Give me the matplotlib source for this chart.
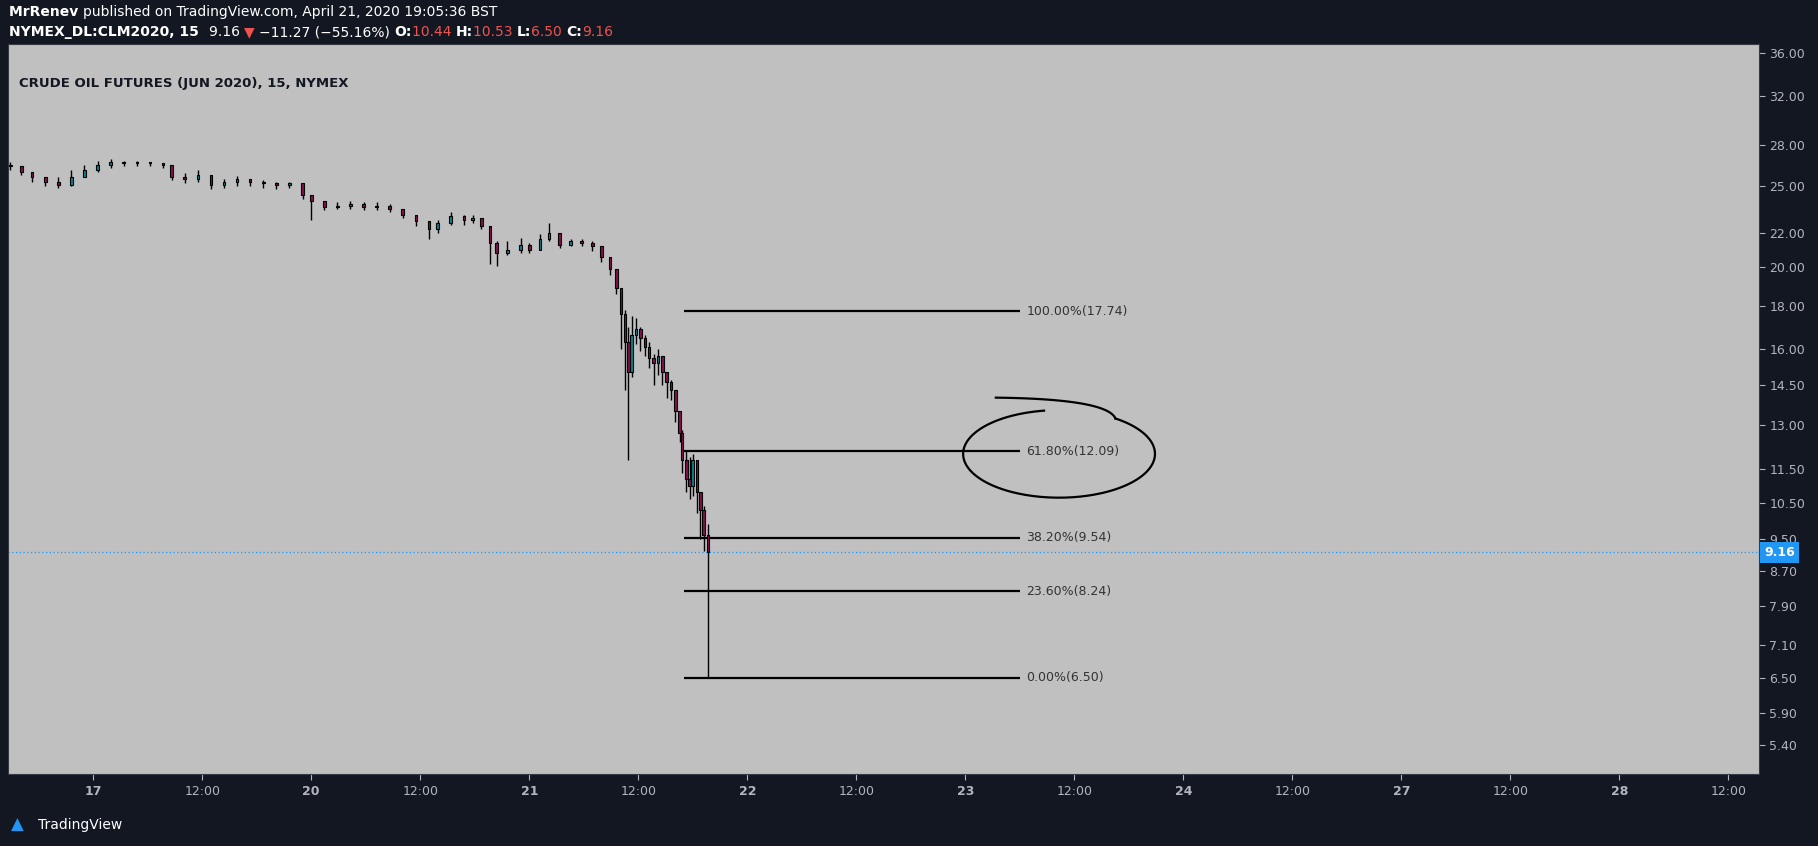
import matplotlib.pyplot as plt
import numpy as np
from matplotlib.patches import Rectangle

# time in trading days since 17 Apr (day 0), compressed axis
times = [-0.38, -0.33, -0.28, -0.22, -0.16, -0.10, -0.04, 0.02, 0.08, 0.14, 0.20, 0.26, 0.32,
         0.36, 0.42, 0.48, 0.54, 0.60, 0.66, 0.72, 0.78, 0.84, 0.90, 0.96, 1.00, 1.06, 1.12,
         1.18, 1.24, 1.30, 1.36, 1.42, 1.48, 1.54, 1.58, 1.64, 1.70, 1.74, 1.78, 1.82, 1.85,
         1.90, 1.96, 2.00, 2.05, 2.09, 2.14, 2.19, 2.24, 2.29, 2.33, 2.37, 2.40, 2.42, 2.44,
         2.455, 2.47, 2.49, 2.51, 2.53, 2.55, 2.57, 2.59, 2.61, 2.63, 2.65, 2.67, 2.69, 2.70,
         2.72, 2.735, 2.75, 2.77, 2.785, 2.80, 2.82]
closes = [26.4, 26.0, 25.6, 25.3, 25.1, 25.6, 26.1, 26.5, 26.7, 26.6, 26.7, 26.6, 26.5,
          25.6, 25.5, 25.8, 25.1, 25.3, 25.5, 25.3, 25.2, 25.1, 25.2, 24.4, 24.0, 23.6, 23.7,
          23.8, 23.6, 23.7, 23.5, 23.1, 22.7, 22.2, 22.6, 23.0, 22.8, 22.9, 22.4, 21.4, 20.8,
          21.0, 21.3, 21.0, 21.6, 22.0, 21.3, 21.5, 21.4, 21.2, 20.6, 19.9, 18.9, 17.6, 16.3,
          15.0, 16.6, 16.9, 16.5, 16.1, 15.6, 15.4, 15.7, 15.0, 14.6, 14.3, 13.5, 12.7, 11.8,
          11.2, 11.0, 11.8, 10.8, 10.3, 9.6, 9.16]
highs = [26.7, 26.4, 26.0, 25.6, 25.6, 26.1, 26.5, 26.8, 26.9, 26.8, 26.8, 26.7, 26.6,
         26.5, 25.9, 26.1, 25.8, 25.5, 25.7, 25.5, 25.4, 25.3, 25.3, 25.2, 24.4, 24.0, 23.9,
         24.0, 23.9, 23.9, 23.8, 23.5, 23.1, 22.7, 22.8, 23.3, 23.1, 23.1, 22.9, 22.4, 21.5,
         21.5, 21.7, 21.4, 21.9, 22.6, 22.0, 21.6, 21.6, 21.5, 21.2, 20.6, 19.9, 18.9, 17.8,
         17.0, 17.5, 17.4, 17.0, 16.6, 16.3, 15.8, 16.0, 15.7, 15.0, 14.7, 14.3, 13.5, 12.8,
         12.1, 11.9, 12.0, 11.8, 10.8, 10.4, 9.9]
lows = [26.1, 25.8, 25.3, 25.0, 24.9, 25.0, 25.9, 26.0, 26.3, 26.4, 26.4, 26.4, 26.3,
        25.4, 25.2, 25.3, 24.8, 24.9, 25.0, 25.0, 24.9, 24.8, 24.9, 24.1, 22.8, 23.4, 23.5,
        23.5, 23.4, 23.4, 23.3, 22.9, 22.4, 21.6, 22.0, 22.5, 22.5, 22.6, 22.2, 20.2, 20.1,
        20.7, 20.8, 20.8, 21.0, 21.5, 21.1, 21.2, 21.2, 20.9, 20.3, 19.6, 18.6, 16.0, 14.3,
        11.8, 14.8, 16.2, 15.9, 15.7, 15.2, 14.5, 14.9, 14.5, 14.0, 13.9, 13.1, 12.4, 11.4,
        10.8, 10.6, 10.7, 10.2, 9.5, 9.2, 6.50]

fib_labels = ["100.00%", "61.80%", "38.20%", "23.60%", "0.00%"]
fib_values = [17.74, 12.09, 9.54, 8.24, 6.50]
price_ticks = [5.40, 5.90, 6.50, 7.10, 7.90, 8.70, 9.50, 10.50, 11.50, 13.00, 14.50, 16.00,
               18.00, 20.00, 22.00, 25.00, 28.00, 32.00, 36.00]
time_ticks = [0, 0.5, 1, 1.5, 2, 2.5, 3, 3.5, 4, 4.5, 5, 5.5, 6, 6.5, 7, 7.5]
time_labels = ["17", "12:00", "20", "12:00", "21", "12:00", "22", "12:00", "23", "12:00",
               "24", "12:00", "27", "12:00", "28", "12:00"]
last_price = 9.16

bg = "#131722"
fig = plt.figure(figsize=(18.18, 8.46), dpi=100, facecolor=bg)
ax = fig.add_axes([0.0045, 0.085, 0.963, 0.863])
ax.set_facecolor("#c0c0c0")
ax.set_yscale("log")
ax.set_ylim(4.99, 36.9)
ax.set_xlim(-0.39, 7.64)

w = 0.012
prev = closes[0]
for t, c, h, l in zip(times, closes, highs, lows):
    o = prev
    ax.vlines(t, l, h, color="black", lw=1, zorder=2)
    col = "#00838f" if c >= o else "#880e4f"
    lo, hi = min(o, c), max(o, c)
    if hi - lo < 0.05:
        hi = lo + 0.05
    ax.add_patch(Rectangle((t - w / 2, lo), w, hi - lo, facecolor=col, edgecolor="black",
                           lw=0.8, zorder=3))
    prev = c

for lab, v in zip(fib_labels, fib_values):
    ax.hlines(v, 2.71, 4.25, color="black", lw=1.6, zorder=2)
    ax.text(4.28, v, "%s(%.2f)" % (lab, v), fontsize=9, color="#333333", va="center")

# hand-drawn circle around the 61.8% level
th = np.linspace(0.3 * np.pi, -1.45 * np.pi, 200)
ex = 4.43 + 0.44 * np.cos(th)
ey = np.exp(np.log(12.0) + 0.12 * np.sin(th))
ax.plot(ex, ey, color="black", lw=1.6)
s = np.linspace(0, 1, 40)
x0, y0 = 4.14, np.log(14.0)
x1, y1 = ex[0], np.log(ey[0])
xm, ym = 4.65, np.log(13.95)
tx = (1 - s) ** 2 * x0 + 2 * (1 - s) * s * xm + s ** 2 * x1
ty = (1 - s) ** 2 * y0 + 2 * (1 - s) * s * ym + s ** 2 * y1
ax.plot(tx, np.exp(ty), color="black", lw=1.6)

ax.axhline(last_price, color="#2196f3", lw=0.9, ls=(0, (1, 2)))

ax.yaxis.tick_right()
ax.set_yticks(price_ticks)
ax.set_yticklabels(["%.2f" % p for p in price_ticks])
ax.yaxis.set_minor_locator(plt.NullLocator())
ax.set_xticks(time_ticks)
ax.set_xticklabels(time_labels)
for i, lbl in enumerate(ax.get_xticklabels()):
    lbl.set_fontweight("bold" if i % 2 == 0 else "normal")
ax.tick_params(colors="#b2b5be", labelsize=9, length=4)
for sp in ax.spines.values():
    sp.set_color("#363a45")

ax.text(0.006, 0.955, "CRUDE OIL FUTURES (JUN 2020), 15, NYMEX", transform=ax.transAxes,
        fontsize=9.5, fontweight="bold", color="#131722", va="top")
ax.text(1.003, last_price, "9.16", transform=ax.get_yaxis_transform(), fontsize=9,
        fontweight="bold", color="white", va="center",
        bbox=dict(boxstyle="square,pad=0.35", fc="#2196f3", ec="none"))

fig.canvas.draw()
r = fig.canvas.get_renderer()


def write_line(parts, y):
    x = 0.005
    for txt, c, fw in parts:
        t = fig.text(x, y, txt, fontsize=10, color=c, fontweight=fw, va="top")
        x += t.get_window_extent(renderer=r).width / fig.bbox.width


write_line([("MrRenev ", "white", "bold"),
            ("published on TradingView.com, April 21, 2020 19:05:36 BST", "white", "normal")], 0.994)
write_line([("NYMEX_DL:CLM2020, 15  ", "white", "bold"), ("9.16 ", "white", "normal"),
            ("\u25bc ", "#ef5350", "normal"), ("\u221211.27 (\u221255.16%) ", "white", "normal"),
            ("O:", "white", "bold"), ("10.44 ", "#ef5350", "normal"), ("H:", "white", "bold"),
            ("10.53 ", "#ef5350", "normal"), ("L:", "white", "bold"), ("6.50 ", "#ef5350", "normal"),
            ("C:", "white", "bold"), ("9.16", "#ef5350", "normal")], 0.970)
fig.text(0.021, 0.025, "TradingView", fontsize=10, color="white", va="center")
fig.text(0.006, 0.025, "\u25b2", fontsize=12, color="#2196f3", va="center")

fig.savefig("out.png", dpi=100, facecolor=bg)
